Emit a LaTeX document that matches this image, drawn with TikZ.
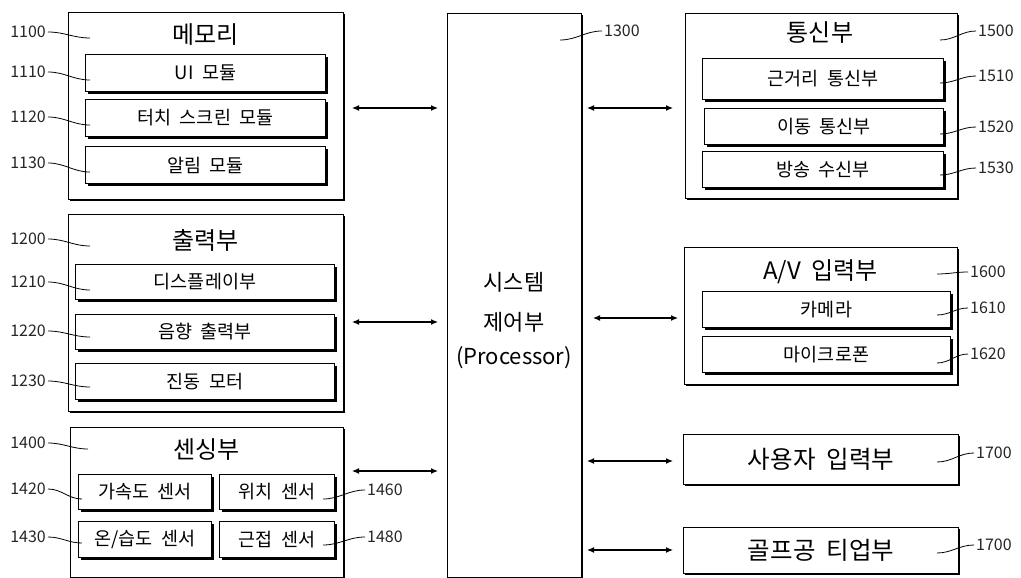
\documentclass[tikz,border=0pt]{standalone}
\usepackage{fontspec}
\setmainfont{Noto Sans CJK KR}[WordSpace=2]
\usetikzlibrary{arrows.meta,shadows}
\begin{document}
\begin{tikzpicture}[x=1pt,y=-1pt,
  outerbox/.style={draw, line width=1.1pt, fill=white, inner sep=0pt, anchor=north west,
    drop shadow={shadow xshift=1.3pt, shadow yshift=-1.3pt, opacity=1, fill=black}},
  innerbox/.style={draw, line width=1pt, fill=white, inner sep=0pt, anchor=north west,
    font=\fontsize{18.5}{22}\selectfont,
    drop shadow={shadow xshift=2pt, shadow yshift=-2.5pt, opacity=1, fill=black}},
  bigbox/.style={outerbox, font=\fontsize{24.5}{28}\selectfont},
  title/.style={font=\fontsize{24}{28}\selectfont, inner sep=0pt},
  ctext/.style={font=\fontsize{22}{26}\selectfont, inner sep=0pt},
  num/.style={font=\fontsize{16}{18}\selectfont, inner sep=0pt, text=black!85},
  leader/.style={line width=0.8pt},
  link/.style={line width=1.2pt, {Latex[length=7pt,width=6pt]}-{Latex[length=7pt,width=6pt]}}
]
\useasboundingbox (0,0) rectangle (1021,578);
\fill[white] (0,0) rectangle (1021,578);

% ---------- Memory 1100
\node[outerbox, minimum width=275pt, minimum height=187pt] (mem) at (68,12) {};
\node[title] (memT) at (205.5,35) {메모리};
\node[innerbox, minimum width=240pt, minimum height=37pt] (ui) at (85,54) {UI 모듈};
\node[innerbox, minimum width=240pt, minimum height=37pt] (touch) at (85,99) {터치 스크린 모듈};
\node[innerbox, minimum width=240pt, minimum height=37pt] (alarm) at (85,146) {알림 모듈};

% ---------- Output 1200
\node[outerbox, minimum width=275pt, minimum height=197pt] (out) at (68,214) {};
\node[title] (outT) at (205.5,240) {출력부};
\node[innerbox, minimum width=259pt, minimum height=35pt] (disp) at (75,264) {디스플레이부};
\node[innerbox, minimum width=259pt, minimum height=35pt] (snd) at (75,314) {음향 출력부};
\node[innerbox, minimum width=259pt, minimum height=36pt] (vib) at (75,363) {진동 모터};

% ---------- Sensing 1400
\node[outerbox, minimum width=273pt, minimum height=150pt] (sens) at (70,427) {};
\node[title] (sensT) at (206.5,450) {센싱부};
\node[innerbox, minimum width=133pt, minimum height=35pt] (acc) at (78,474) {가속도 센서};
\node[innerbox, minimum width=115pt, minimum height=35pt] (pos) at (219,474) {위치 센서};
\node[innerbox, minimum width=133pt, minimum height=36pt] (hum) at (78,521) {온/습도 센서};
\node[innerbox, minimum width=115pt, minimum height=36pt] (prox) at (219,521) {근접 센서};

% ---------- Controller 1300
\node[outerbox, minimum width=134pt, minimum height=564pt] (ctrl) at (447,13) {};
\node[ctext] (ctrlA) at (514,282) {시스템};
\node[ctext] (ctrlB) at (514,322) {제어부};
\node[ctext] (ctrlC) at (514,358) {(Processor)};

% ---------- Communication 1500
\node[outerbox, minimum width=272pt, minimum height=185pt] (comm) at (685,13) {};
\node[title] (commT) at (820,33) {통신부};
\node[innerbox, minimum width=241pt, minimum height=41pt] (near) at (702,58) {근거리 통신부};
\node[innerbox, minimum width=239pt, minimum height=36pt] (mob) at (704,108) {이동 통신부};
\node[innerbox, minimum width=241pt, minimum height=36pt] (bcast) at (702,151) {방송 수신부};

% ---------- A/V 1600
\node[outerbox, minimum width=273pt, minimum height=137pt] (av) at (684,247) {};
\node[title] (avT) at (820.5,272) {A/V 입력부};
\node[innerbox, minimum width=248pt, minimum height=36pt] (cam) at (702,291) {카메라};
\node[innerbox, minimum width=248pt, minimum height=36pt] (mic) at (702,336) {마이크로폰};

% ---------- User input / golf tee-up 1700
\node[bigbox, minimum width=275pt, minimum height=50pt] (user) at (683,434) {사용자 입력부};
\node[bigbox, minimum width=275pt, minimum height=46pt] (golf) at (683,527) {골프공 티업부};

% ---------- Connections
\coordinate (mL) at (352,108); \coordinate (mR) at (438,108);
\coordinate (oL) at (352,322); \coordinate (oR) at (438,322);
\coordinate (sL) at (352,471); \coordinate (sR) at (438,471);
\coordinate (cL) at (587,108); \coordinate (cR) at (673,108);
\coordinate (aL) at (593,318); \coordinate (aR) at (678,318);
\coordinate (uL) at (587,461); \coordinate (uR) at (673,461);
\coordinate (gL) at (587,550); \coordinate (gR) at (673,550);
\draw[link] (mL) -- (mR);
\draw[link] (oL) -- (oR);
\draw[link] (sL) -- (sR);
\draw[link] (cL) -- (cR);
\draw[link] (aL) -- (aR);
\draw[link] (uL) -- (uR);
\draw[link] (gL) -- (gR);

% ---------- Reference numerals (left)
\node[num, anchor=east] (n1100) at (46,32) {1100};
\node[num, anchor=east] (n1110) at (46,72) {1110};
\node[num, anchor=east] (n1120) at (46,117) {1120};
\node[num, anchor=east] (n1130) at (46,163) {1130};
\node[num, anchor=east] (n1200) at (46,239) {1200};
\node[num, anchor=east] (n1210) at (46,282) {1210};
\node[num, anchor=east] (n1220) at (46,331) {1220};
\node[num, anchor=east] (n1230) at (46,381) {1230};
\node[num, anchor=east] (n1400) at (46,443) {1400};
\node[num, anchor=east] (n1420) at (46,489) {1420};
\node[num, anchor=east] (n1430) at (46,537) {1430};
\coordinate (e1100) at (90,38);
\coordinate (e1110) at (90,80);
\coordinate (e1120) at (90,125);
\coordinate (e1130) at (90,172);
\coordinate (e1200) at (90,246);
\coordinate (e1210) at (90,290);
\coordinate (e1220) at (90,337);
\coordinate (e1230) at (90,387);
\coordinate (e1400) at (88,449);
\coordinate (e1420) at (82,499);
\coordinate (e1430) at (82,543);
\foreach \n in {1100,1110,1120,1130,1200,1210,1220,1230,1400,1420,1430}
  \draw[leader] ([xshift=2pt]n\n.east) to[out=0,in=180] (e\n);

% ---------- Reference numerals (right)
\node[num, anchor=west] (n1460) at (367,490) {1460};
\node[num, anchor=west] (n1480) at (367,537) {1480};
\node[num, anchor=west] (n1300) at (604,31) {1300};
\node[num, anchor=west] (n1500) at (978,31) {1500};
\node[num, anchor=west] (n1510) at (978,76) {1510};
\node[num, anchor=west] (n1520) at (978,127) {1520};
\node[num, anchor=west] (n1530) at (978,168) {1530};
\node[num, anchor=west] (n1600) at (970,272) {1600};
\node[num, anchor=west] (n1610) at (970,308) {1610};
\node[num, anchor=west] (n1620) at (970,354) {1620};
\node[num, anchor=west] (n1700a) at (976,453) {1700};
\node[num, anchor=west] (n1700b) at (976,545) {1700};
\coordinate (e1460) at (323,499);
\coordinate (e1480) at (323,545);
\coordinate (e1300) at (560,40);
\coordinate (e1500) at (940,40);
\coordinate (e1510) at (940,83);
\coordinate (e1520) at (940,134);
\coordinate (e1530) at (940,175);
\coordinate (e1600) at (937,274);
\coordinate (e1610) at (937,315);
\coordinate (e1620) at (937,363);
\coordinate (e1700a) at (937,462);
\coordinate (e1700b) at (937,553);
\foreach \n in {1460,1480,1300,1500,1510,1520,1530,1600,1610,1620,1700a,1700b}
  \draw[leader] ([xshift=-2pt]n\n.west) to[out=180,in=0] (e\n);
\end{tikzpicture}
\end{document}
